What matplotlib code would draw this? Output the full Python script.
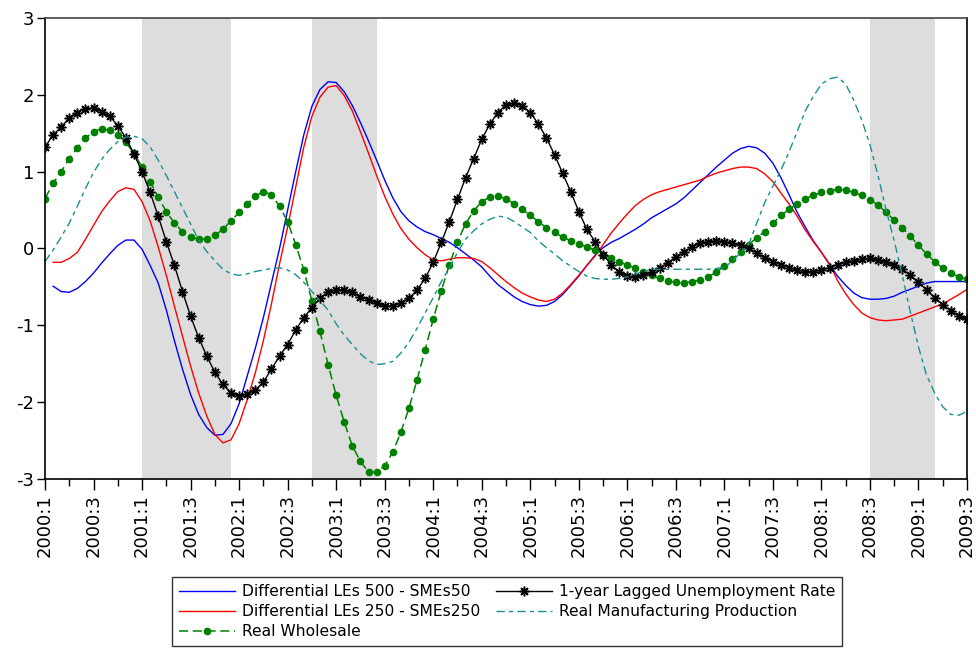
import numpy as np
import matplotlib
matplotlib.use("Agg")
import matplotlib.pyplot as plt

plt.rcParams['font.family'] = ['DejaVu Sans']

# monthly observations, 2000M1 .. 2009M7 (x axis is in quarters)
months = np.arange(115)

lagged_unemp = [
    1.32, 1.48, 1.58, 1.70, 1.77, 1.82, 1.83, 1.78, 1.72, 1.60, 1.44, 1.23,
    1.00, 0.73, 0.42, 0.09, -0.22, -0.56, -0.88, -1.16, -1.40, -1.61, -1.77, -1.88,
    -1.92, -1.90, -1.84, -1.74, -1.57, -1.40, -1.25, -1.06, -0.90, -0.77, -0.65, -0.57,
    -0.54, -0.54, -0.57, -0.63, -0.67, -0.71, -0.75, -0.75, -0.71, -0.65, -0.54, -0.39,
    -0.18, 0.08, 0.35, 0.64, 0.92, 1.17, 1.42, 1.62, 1.77, 1.87, 1.89, 1.86,
    1.77, 1.62, 1.44, 1.22, 0.98, 0.74, 0.48, 0.25, 0.09, -0.08, -0.21, -0.31,
    -0.36, -0.37, -0.35, -0.31, -0.26, -0.19, -0.11, -0.05, 0.02, 0.07, 0.09, 0.10,
    0.09, 0.07, 0.04, 0.00, -0.06, -0.12, -0.17, -0.21, -0.25, -0.28, -0.30, -0.30,
    -0.28, -0.25, -0.21, -0.18, -0.16, -0.14, -0.13, -0.15, -0.18, -0.22, -0.27, -0.35,
    -0.44, -0.54, -0.64, -0.73, -0.81, -0.88, -0.92]

wholesale = [
    0.65, 0.85, 1.00, 1.17, 1.31, 1.44, 1.52, 1.56, 1.54, 1.48, 1.38, 1.24,
    1.06, 0.87, 0.67, 0.48, 0.33, 0.22, 0.15, 0.12, 0.12, 0.17, 0.25, 0.36,
    0.47, 0.58, 0.68, 0.74, 0.70, 0.55, 0.35, 0.05, -0.28, -0.68, -1.08, -1.51,
    -1.91, -2.26, -2.57, -2.77, -2.91, -2.91, -2.83, -2.65, -2.39, -2.08, -1.71, -1.32,
    -0.92, -0.55, -0.21, 0.09, 0.32, 0.49, 0.61, 0.67, 0.68, 0.65, 0.58, 0.51,
    0.43, 0.35, 0.27, 0.21, 0.15, 0.10, 0.06, 0.02, -0.02, -0.08, -0.13, -0.18,
    -0.21, -0.26, -0.31, -0.35, -0.39, -0.42, -0.44, -0.45, -0.43, -0.41, -0.37, -0.31,
    -0.23, -0.14, -0.04, 0.05, 0.14, 0.22, 0.33, 0.43, 0.51, 0.58, 0.65, 0.69,
    0.73, 0.75, 0.77, 0.76, 0.73, 0.69, 0.63, 0.57, 0.47, 0.37, 0.27, 0.16,
    0.04, -0.07, -0.17, -0.26, -0.32, -0.37, -0.40]

diff_500_50 = [
    np.nan, -0.49, -0.56, -0.57, -0.52, -0.43, -0.32, -0.19, -0.07, 0.04, 0.11, 0.11,
    -0.01, -0.22, -0.45, -0.80, -1.20, -1.57, -1.90, -2.16, -2.33, -2.43, -2.42, -2.28,
    -2.02, -1.66, -1.30, -0.90, -0.45, 0.00, 0.50, 1.00, 1.48, 1.85, 2.07, 2.17,
    2.16, 2.04, 1.86, 1.64, 1.40, 1.15, 0.89, 0.66, 0.48, 0.36, 0.28, 0.22,
    0.18, 0.13, 0.08, 0.01, -0.07, -0.15, -0.24, -0.36, -0.47, -0.55, -0.63, -0.69,
    -0.73, -0.75, -0.74, -0.69, -0.60, -0.48, -0.36, -0.22, -0.09, 0.01, 0.08, 0.13,
    0.19, 0.25, 0.32, 0.40, 0.46, 0.52, 0.58, 0.66, 0.76, 0.86, 0.96, 1.06,
    1.15, 1.24, 1.30, 1.33, 1.31, 1.24, 1.11, 0.92, 0.70, 0.47, 0.28, 0.10,
    -0.05, -0.21, -0.36, -0.48, -0.58, -0.64, -0.66, -0.66, -0.65, -0.62, -0.57, -0.53,
    -0.49, -0.45, -0.43, -0.43, -0.43, -0.43, -0.43]

diff_250_250 = [
    np.nan, -0.18, -0.18, -0.13, -0.05, 0.12, 0.30, 0.48, 0.62, 0.74, 0.79, 0.77,
    0.61, 0.36, 0.02, -0.35, -0.75, -1.14, -1.53, -1.88, -2.18, -2.42, -2.53, -2.49,
    -2.28, -1.97, -1.62, -1.20, -0.72, -0.20, 0.28, 0.80, 1.32, 1.72, 1.97, 2.10,
    2.12, 1.99, 1.79, 1.52, 1.24, 0.95, 0.68, 0.45, 0.26, 0.12, 0.01, -0.08,
    -0.15, -0.16, -0.14, -0.12, -0.12, -0.13, -0.17, -0.25, -0.34, -0.43, -0.51, -0.58,
    -0.63, -0.67, -0.69, -0.66, -0.58, -0.47, -0.35, -0.22, -0.10, 0.05, 0.20, 0.33,
    0.45, 0.56, 0.64, 0.70, 0.74, 0.77, 0.80, 0.83, 0.86, 0.89, 0.94, 0.98,
    1.01, 1.04, 1.06, 1.06, 1.04, 0.97, 0.87, 0.72, 0.58, 0.42, 0.24, 0.09,
    -0.05, -0.20, -0.42, -0.59, -0.73, -0.84, -0.90, -0.93, -0.94, -0.93, -0.92, -0.88,
    -0.84, -0.80, -0.76, -0.72, -0.66, -0.60, -0.53]

manufacturing = [
    -0.17, -0.02, 0.15, 0.33, 0.55, 0.78, 0.99, 1.16, 1.29, 1.39, 1.45, 1.46,
    1.43, 1.32, 1.15, 0.95, 0.74, 0.53, 0.32, 0.11, -0.04, -0.16, -0.27, -0.33,
    -0.35, -0.33, -0.30, -0.28, -0.26, -0.25, -0.28, -0.34, -0.44, -0.56, -0.68, -0.80,
    -0.98, -1.13, -1.25, -1.37, -1.46, -1.51, -1.50, -1.47, -1.36, -1.22, -1.04, -0.84,
    -0.64, -0.43, -0.26, -0.05, 0.12, 0.23, 0.32, 0.38, 0.42, 0.41, 0.35, 0.28,
    0.21, 0.10, 0.01, -0.07, -0.16, -0.23, -0.30, -0.36, -0.39, -0.40, -0.40, -0.39,
    -0.37, -0.33, -0.30, -0.27, -0.27, -0.27, -0.27, -0.27, -0.27, -0.27, -0.27, -0.26,
    -0.24, -0.17, -0.05, 0.05, 0.33, 0.60, 0.81, 1.02, 1.26, 1.52, 1.79, 1.98,
    2.14, 2.21, 2.23, 2.14, 1.93, 1.67, 1.35, 0.95, 0.50, 0.10, -0.35, -0.83,
    -1.28, -1.65, -1.88, -2.06, -2.16, -2.17, -2.12]

# shaded periods (month index start, end)
recessions = [(12, 23), (33, 41), (102, 110)]

tick_quarters = list(range(0, 39, 2))
tick_labels = [f"{2000 + q // 4}:{q % 4 + 1}" for q in tick_quarters]

x = months / 3.0

fig = plt.figure(figsize=(9.76, 6.48), dpi=100)
ax = fig.add_axes([45 / 976, 1 - 479 / 648, 922 / 976, 461 / 648])

for a, b in recessions:
    ax.axvspan(a / 3.0, b / 3.0, color='#dddddd', lw=0, zorder=0)

ax.plot(x, diff_500_50, color='#0000ff', lw=1.0,
        label='Differential LEs 500 - SMEs50')
ax.plot(x, diff_250_250, color='#ff0000', lw=1.0,
        label='Differential LEs 250 - SMEs250')
ax.plot(x, wholesale, color='#008000', lw=1.1, ls=(0, (6, 3)),
        marker='o', ms=4.5, mec='#008000', mfc='#008000',
        label='Real Wholesale')
ax.plot(x, lagged_unemp, color='black', lw=1.0,
        marker=(8, 2, 0), ms=7, mew=1.1,
        label='1-year Lagged Unemployment Rate')
ax.plot(x, manufacturing, color='#1a9090', lw=1.0, ls=(0, (6, 3, 3, 3)),
        label='Real Manufacturing Production')

ax.set_xlim(0, 38)
ax.set_ylim(-3, 3)
ax.set_yticks([-3, -2, -1, 0, 1, 2, 3])
ax.set_yticklabels(['-3', '-2', '-1', '0', '1', '2', '3'], fontsize=13)
ax.set_xticks(tick_quarters)
ax.set_xticklabels(tick_labels, rotation=90, fontsize=13)
ax.set_xticks(range(0, 39), minor=True)
ax.tick_params(axis='x', which='major', length=8, width=1, direction='out', pad=3)
ax.tick_params(axis='x', which='minor', length=5, width=1, direction='out')
ax.tick_params(axis='y', length=6, width=1, direction='out', pad=2)
for s in ax.spines.values():
    s.set_linewidth(1.2)
    s.set_color('black')
ax.spines['top'].set_color('#444444')

leg = fig.legend(loc='upper left', bbox_to_anchor=(172 / 976, 1 - 577 / 648),
                 ncol=2, fontsize=11.2, frameon=True, fancybox=False,
                 edgecolor='black', handlelength=3.6, numpoints=1,
                 columnspacing=1.0, handletextpad=0.45, labelspacing=0.32,
                 borderaxespad=0, borderpad=0.45)
leg.get_frame().set_linewidth(1.0)

fig.savefig("out.png", dpi=100)
